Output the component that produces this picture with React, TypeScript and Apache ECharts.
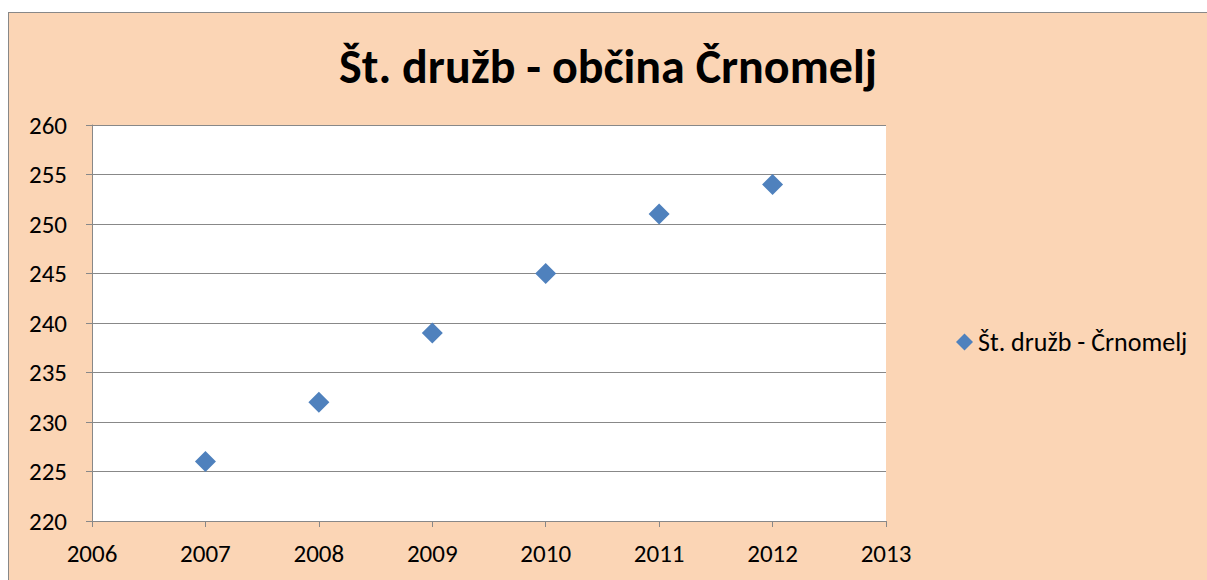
import React, { useEffect, useRef } from "react";
import * as echarts from "echarts";

const years = [2007, 2008, 2009, 2010, 2011, 2012];
const values = [226, 232, 239, 245, 251, 254];
const seriesName = "Št. družb - Črnomelj";
const titleText = "Št. družb - občina Črnomelj";

export default function App() {
  const ref = useRef<HTMLDivElement>(null);
  useEffect(() => {
    if (!ref.current) return;
    const chart = echarts.init(ref.current, null, { renderer: "svg" });
    const font = "Carlito, 'Open Sans', 'Noto Sans', sans-serif";
    chart.setOption({
      animation: false,
      backgroundColor: "#FBD5B5",
      textStyle: { fontFamily: font },
      title: {
        text: titleText,
        left: "center",
        top: 24,
        textStyle: { fontSize: 48, fontWeight: "bold", color: "#000", fontFamily: font },
      },
      legend: {
        orient: "vertical",
        left: 942,
        top: 311,
        itemWidth: 17,
        itemHeight: 17,
        itemGap: 6,
        textStyle: { fontSize: 26, color: "#000", fontFamily: font },
        data: [{ name: seriesName, icon: "diamond" }],
      },
      grid: { left: 83, top: 112, width: 794, height: 396, containLabel: false, backgroundColor: "#fff", show: true, borderWidth: 0 },
      xAxis: {
        type: "value",
        min: 2006,
        max: 2013,
        interval: 1,
        axisLine: { show: true, lineStyle: { color: "#888", width: 1 } },
        axisTick: { show: true, length: 6, lineStyle: { color: "#888" } },
        splitLine: { show: false },
        axisLabel: { fontSize: 25, color: "#000", margin: 20, fontFamily: font, formatter: (v: number) => String(v) },
      },
      yAxis: {
        type: "value",
        min: 220,
        max: 260,
        interval: 5,
        axisLine: { show: true, lineStyle: { color: "#888", width: 1 } },
        axisTick: { show: true, length: 6, lineStyle: { color: "#888" } },
        splitLine: { show: true, lineStyle: { color: "#888", width: 1 } },
        axisLabel: { fontSize: 25, color: "#000", margin: 25, fontFamily: font },
      },
      series: [
        {
          name: seriesName,
          type: "scatter",
          symbol: "diamond",
          symbolSize: 21,
          itemStyle: { color: "#4F81BD", opacity: 1 },
          data: years.map((y, i) => [y, values[i]]),
        },
      ],
    });
    return () => chart.dispose();
  }, []);
  return (
    <div
      style={{
        position: "absolute",
        left: 8,
        top: 12,
        width: 1198,
        height: 567,
        borderLeft: "1px solid #888",
        borderTop: "1px solid #888",
        background: "#FBD5B5",
      }}
    >
      <div ref={ref} style={{ width: 1198, height: 567 }} />
    </div>
  );
}
